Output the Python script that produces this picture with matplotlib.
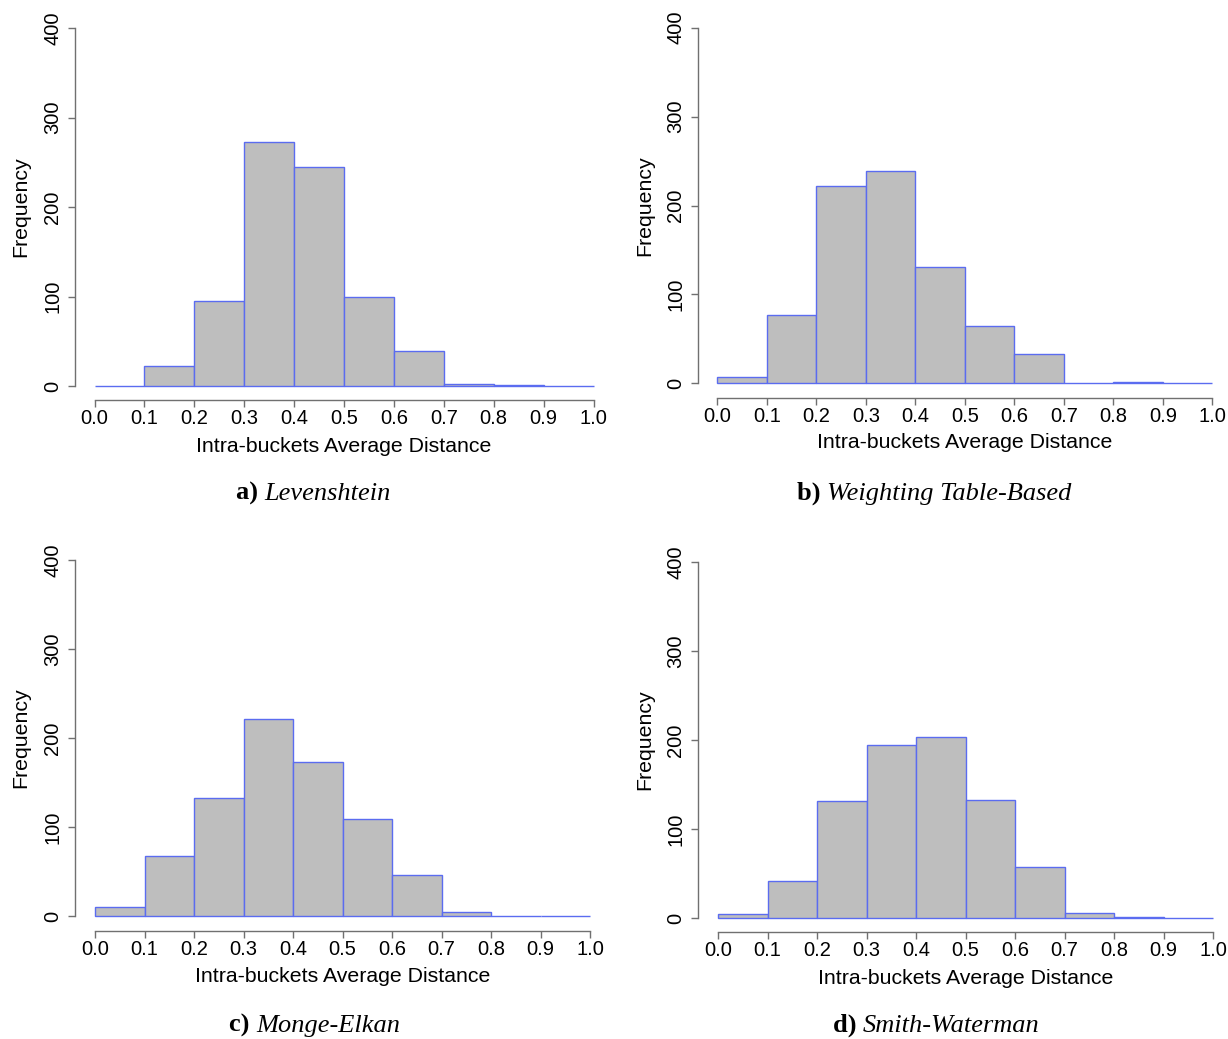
import matplotlib
matplotlib.use("Agg")
import matplotlib.pyplot as plt
from matplotlib.text import Annotation

# ---- data ----
bin_edges = [0.0, 0.1, 0.2, 0.3, 0.4, 0.5, 0.6, 0.7, 0.8, 0.9, 1.0]
x_tick_labels = ["0.0", "0.1", "0.2", "0.3", "0.4", "0.5", "0.6", "0.7", "0.8", "0.9", "1.0"]
y_ticks = [0, 100, 200, 300, 400]

levenshtein = [0, 22, 95, 273, 245, 100, 39, 2, 1, 0]
weighting_table = [7, 77, 222, 239, 131, 65, 33, 0, 1, 0]
monge_elkan = [10, 67, 133, 221, 173, 109, 46, 4, 0, 0]
smith_waterman = [4, 42, 131, 194, 203, 133, 57, 6, 1, 0]

panel_letters = ["a)", "b)", "c)", "d)"]
panel_names = ["Levenshtein", "Weighting Table-Based", "Monge-Elkan", "Smith-Waterman"]
series = [levenshtein, weighting_table, monge_elkan, smith_waterman]

x_label = "Intra-buckets Average Distance"
y_label = "Frequency"

# ---- layout (pixels) ----
W, H = 1228, 1039
layout = [
    # x0, x1, y0(pix of 0), y400(pix of 400), yaxis_x, xaxis_y, xlabel_y, ylabel_x, cap_left, cap_base
    (94.5, 593.5, 386.0, 28.3, 74.7, 400.0, 447, 21, 236, 500),
    (717.3, 1212.3, 383.3, 27.7, 697.7, 397.7, 443, 645, 797, 500),
    (95.0, 590.0, 916.0, 560.0, 74.7, 930.7, 977, 21, 229, 1032),
    (718.0, 1213.0, 918.0, 562.0, 697.7, 932.0, 978, 645, 833, 1032),
]

fig = plt.figure(figsize=(W / 100, H / 100), dpi=100)
fig.patch.set_facecolor("white")

sans = ["Liberation Sans", "DejaVu Sans"]
serif = ["Liberation Serif", "DejaVu Serif"]
axis_col = "#707070"
edge_col = "#5b6cf0"
fill_col = "#bebebe"
tick_fs = 14.5
label_fs = 15.3
cap_fs = 19

centers = [(bin_edges[i] + bin_edges[i + 1]) / 2 for i in range(len(bin_edges) - 1)]
widths = [bin_edges[i + 1] - bin_edges[i] for i in range(len(bin_edges) - 1)]

for k, (vals, lay) in enumerate(zip(series, layout)):
    x0, x1, y0, y4, yax, xax, xly, ylx, capl, capb = lay
    ax = fig.add_axes([x0 / W, 1 - y0 / H, (x1 - x0) / W, (y0 - y4) / H])
    ax.set_xlim(0, 1)
    ax.set_ylim(0, 400)
    ax.bar(centers, vals, width=widths, color=fill_col, edgecolor=edge_col,
           linewidth=1.0, align="center", clip_on=False)
    for s in ["top", "right"]:
        ax.spines[s].set_visible(False)
    ax.spines["left"].set_position(("outward", (x0 - yax) * 0.72))
    ax.spines["bottom"].set_position(("outward", (xax - y0) * 0.72))
    ax.spines["left"].set_bounds(0, 400)
    ax.spines["bottom"].set_bounds(0, 1)
    for s in ["left", "bottom"]:
        ax.spines[s].set_color(axis_col)
        ax.spines[s].set_linewidth(1.0)
    ax.set_xticks(bin_edges)
    ax.set_xticklabels(x_tick_labels, fontfamily=sans, fontsize=tick_fs)
    ax.set_yticks(y_ticks)
    ax.set_yticklabels([str(v) for v in y_ticks], fontfamily=sans, fontsize=tick_fs,
                       rotation=90, va="center")
    ax.tick_params(axis="both", color=axis_col, length=5, width=1.0, labelcolor="black")
    ax.tick_params(axis="x", pad=1.5)
    ax.tick_params(axis="y", pad=4)
    ax.patch.set_alpha(0)

    fig.text((x0 + x1) / 2 / W, 1 - xly / H, x_label, fontfamily=sans, fontsize=label_fs,
             ha="center", va="center")
    fig.text(ylx / W, 1 - (y0 + y4) / 2 / H, y_label, fontfamily=sans, fontsize=label_fs,
             ha="center", va="center", rotation=90)

    t1 = fig.text(capl / W, 1 - capb / H, panel_letters[k] + " ", fontfamily=serif,
                  fontweight="bold", fontsize=cap_fs, ha="left", va="baseline")
    ann = Annotation(panel_names[k], xy=(1, 0), xycoords=t1, xytext=(0, 0),
                     textcoords="offset points", fontfamily=serif, fontstyle="italic",
                     fontsize=cap_fs, ha="left", va="bottom")
    fig.add_artist(ann)

fig.savefig("out.png", dpi=100)
